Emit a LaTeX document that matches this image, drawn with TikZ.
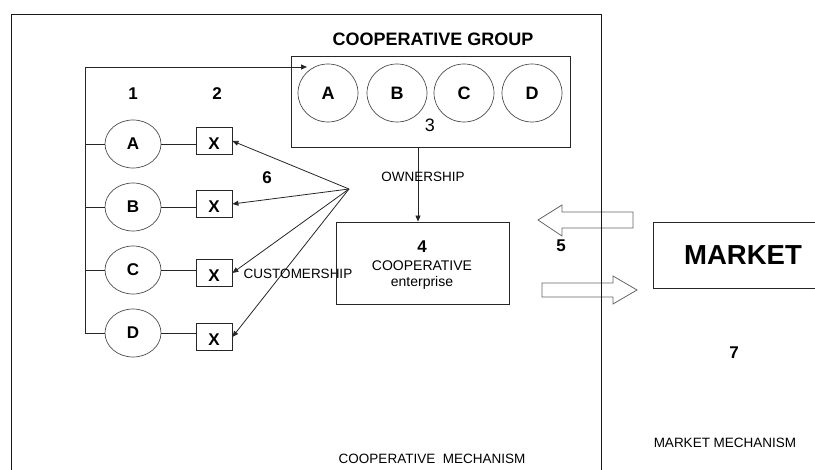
\documentclass[tikz,border=0pt]{standalone}
\usepackage{fontspec}
\setmainfont{Liberation Sans}
\usetikzlibrary{shapes.geometric,arrows.meta}
\begin{document}
\begin{tikzpicture}[x=1pt,y=-1pt,
  ln/.style={draw=black!85, line width=0.8pt},
  memb/.style={ellipse, draw=black!70, line width=0.7pt, minimum width=56pt, minimum height=48pt, inner sep=0pt, font=\fontsize{17}{17}\selectfont\bfseries},
  gmemb/.style={ellipse, draw=black!70, line width=0.7pt, minimum width=60pt, minimum height=58pt, inner sep=0pt, font=\fontsize{18}{18}\selectfont\bfseries},
  xbox/.style={rectangle, draw=black!85, line width=0.8pt, minimum width=36pt, minimum height=27pt, inner sep=0pt, text height=17pt, text depth=0pt, font=\fontsize{17}{17}\selectfont\bfseries},
  bigbox/.style={rectangle, draw=black!85, line width=0.8pt, inner sep=0pt},
  lbl/.style={inner sep=0pt, font=\fontsize{13.5}{14}\selectfont},
  num/.style={inner sep=0pt, font=\fontsize{17}{17}\selectfont\bfseries},
  arr/.style={ln, -{Triangle[length=6pt,width=5pt]}},
  blockarrow/.style={draw=black!60, line width=0.8pt, line join=miter}
]
\useasboundingbox (0,0) rectangle (815,470);

% block arrows
\draw[blockarrow] (633,212) -- (562,212) -- (562,205) -- (538,220) -- (562,236) -- (562,228) -- (633,228) -- cycle;
\draw[blockarrow] (542,283) -- (613,283) -- (613,276) -- (637,290) -- (613,304) -- (613,297) -- (542,297) -- cycle;

% outer frame
\draw[draw=black!90, line width=0.9pt] (11,470) -- (11,14) -- (601,14) -- (601,470);

% cooperative group
\node[inner sep=0pt, font=\fontsize{18}{18}\selectfont\bfseries] (gtitle) at (433,39) {COOPERATIVE GROUP};
\node[bigbox, minimum width=279pt, minimum height=91pt] (gbox) at (430.5,101.5) {};
\node[gmemb] (gA) at (328,93) {A};
\node[gmemb] (gB) at (397,93) {B};
\node[gmemb] (gC) at (464,93) {C};
\node[gmemb] (gD) at (532,93) {D};
\node[inner sep=0pt, font=\fontsize{18}{18}\selectfont] (n3) at (430,125) {3};

% members
\node[num] (n1) at (133,94) {1};
\node[num] (n2) at (217,94) {2};
\node[memb] (mA) at (133,144) {A};
\node[memb] (mB) at (133,207) {B};
\node[memb] (mC) at (133,270) {C};
\node[memb] (mD) at (133,333) {D};
\node[xbox] (xA) at (214,141) {X};
\node[xbox] (xB) at (214,204) {X};
\node[xbox] (xC) at (214,273) {X};
\node[xbox] (xD) at (214,337) {X};

\coordinate (bar) at (85,0);
\coordinate (tl) at (85,67);
\coordinate (grin) at (307,67);
\draw[ln] (mD.west) -- (mD.west -| bar) -- (tl);
\draw[arr] (tl) -- (grin);
\foreach \m in {A,B,C}{\draw[ln] (m\m.west) -- (m\m.west -| bar);}
\foreach \m in {A,B,C,D}{\draw[ln] (m\m.east) -- (m\m.east -| x\m.west);}

% customership fan
\coordinate (fan) at (349,189);
\foreach \m in {A,B,C,D}{\draw[arr] (fan) -- (x\m.east);}
\node[num] (n6) at (267,178) {6};
\node[lbl] (cust) at (298,274) {CUSTOMERSHIP};

% enterprise
\node[bigbox, minimum width=173pt, minimum height=82pt] (ent) at (422.5,263) {};
\node[num] (n4) at (422,247) {4};
\node[inner sep=0pt, font=\fontsize{14}{14}\selectfont] (ent1) at (422,266) {COOPERATIVE};
\node[inner sep=0pt, font=\fontsize{14}{14}\selectfont] (ent2) at (422,283) {enterprise};

% ownership
\coordinate (ownx) at (418,0);
\draw[arr] (gbox.south -| ownx) -- (ent.north -| ownx);
\node[lbl] (own) at (423,177) {OWNERSHIP};

% market
\node[num] (n5) at (561,246) {5};
\node[bigbox, minimum width=180pt, minimum height=66pt, font=\fontsize{27.5}{28}\selectfont\bfseries] (market) at (743,255) {MARKET};
\node[num] (n7) at (734,353) {7};

% mechanisms
\node[lbl] (coopmech) at (432,459) {COOPERATIVE\ \ MECHANISM};
\node[lbl] (marketmech) at (725,443) {MARKET MECHANISM};
\end{tikzpicture}
\end{document}
